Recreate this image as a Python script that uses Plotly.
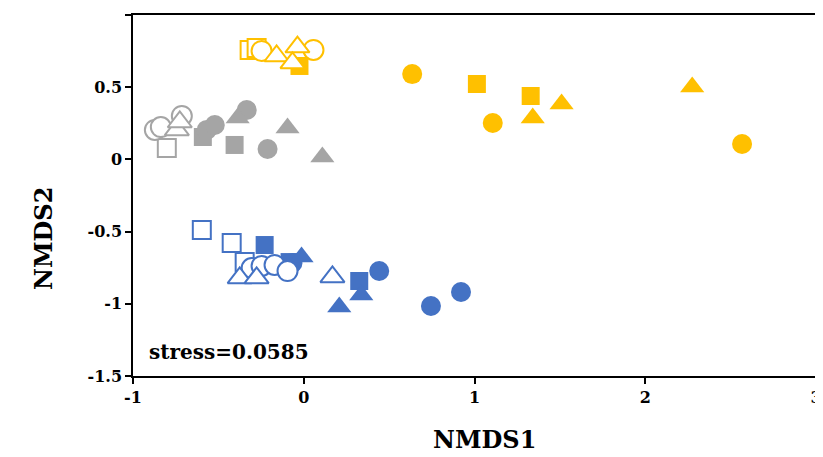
import plotly.graph_objects as go

# ---- data (NMDS coordinates) ----
# Yellow group
yel_open_sq_x = [-0.317, -0.276]
yel_open_sq_y = [0.758, 0.771]
yel_open_ci_x = [-0.247, 0.057]
yel_open_ci_y = [0.751, 0.758]
yel_open_tr_x = [-0.159, -0.037, -0.066]
yel_open_tr_y = [0.716, 0.778, 0.668]
yel_fill_sq_x = [-0.025, 1.014, 1.329]
yel_fill_sq_y = [0.647, 0.522, 0.439]
yel_fill_ci_x = [0.635, 1.107, 2.567]
yel_fill_ci_y = [0.591, 0.252, 0.107]
yel_fill_tr_x = [1.341, 1.510, 2.275]
yel_fill_tr_y = [0.287, 0.384, 0.501]

# Gray group
gry_open_sq_x = [-0.802]
gry_open_sq_y = [0.079]
gry_open_ci_x = [-0.872, -0.837, -0.714]
gry_open_ci_y = [0.204, 0.224, 0.301]
gry_open_tr_x = [-0.743, -0.726]
gry_open_tr_y = [0.204, 0.259]
gry_fill_sq_x = [-0.591, -0.405]
gry_fill_sq_y = [0.155, 0.100]
gry_fill_ci_x = [-0.568, -0.521, -0.334, -0.212]
gry_fill_ci_y = [0.204, 0.238, 0.342, 0.072]
gry_fill_tr_x = [-0.387, -0.095, 0.109]
gry_fill_tr_y = [0.287, 0.217, 0.017]

# Blue group
blu_open_sq_x = [-0.597, -0.422, -0.346]
blu_open_sq_y = [-0.489, -0.579, -0.711]
blu_open_ci_x = [-0.305, -0.247, -0.171, -0.095]
blu_open_ci_y = [-0.752, -0.738, -0.731, -0.773]
blu_open_tr_x = [-0.375, -0.276, 0.168]
blu_open_tr_y = [-0.821, -0.821, -0.814]
blu_fill_sq_x = [-0.229, -0.083, 0.325]
blu_fill_sq_y = [-0.593, -0.711, -0.842]
blu_fill_ci_x = [-0.066, 0.442, 0.745, 0.921]
blu_fill_ci_y = [-0.717, -0.773, -1.015, -0.918]
blu_fill_tr_x = [-0.013, 0.337, 0.208]
blu_fill_tr_y = [-0.676, -0.939, -1.022]

x_tick_vals = [-1, 0, 1, 2, 3]
x_tick_text = ["-1", "0", "1", "2", "3"]
y_tick_vals = [-1.5, -1, -0.5, 0, 0.5, 1]
y_tick_text = ["-1.5", "-1", "-0.5", "0", "0.5", "1"]
x_title = "NMDS1"
y_title = "NMDS2"
stress_text = "stress=0.0585"

YEL = "#FFC000"
GRY = "#A5A5A5"
BLU = "#4472C4"

SYM = {"sq": "square", "ci": "circle", "tr": "triangle-up"}
SIZE = {"sq": 18, "ci": 20, "tr": 21}

fig = go.Figure()

def add(xs, ys, color, shape, filled):
    fig.add_trace(go.Scatter(
        x=xs, y=ys, mode="markers", showlegend=False,
        marker=dict(
            symbol=SYM[shape], size=SIZE[shape],
            color=color if filled else "white",
            line=dict(color=color, width=0 if filled else 2),
        ),
    ))

groups = [
    (GRY, [("sq", False, gry_open_sq_x, gry_open_sq_y),
           ("ci", False, gry_open_ci_x, gry_open_ci_y),
           ("tr", False, gry_open_tr_x, gry_open_tr_y),
           ("sq", True, gry_fill_sq_x, gry_fill_sq_y),
           ("ci", True, gry_fill_ci_x, gry_fill_ci_y),
           ("tr", True, gry_fill_tr_x, gry_fill_tr_y)]),
    (YEL, [("sq", True, yel_fill_sq_x, yel_fill_sq_y),
           ("sq", False, yel_open_sq_x, yel_open_sq_y),
           ("ci", False, yel_open_ci_x, yel_open_ci_y),
           ("tr", False, yel_open_tr_x, yel_open_tr_y),
           ("ci", True, yel_fill_ci_x, yel_fill_ci_y),
           ("tr", True, yel_fill_tr_x, yel_fill_tr_y)]),
    (BLU, [("sq", False, blu_open_sq_x, blu_open_sq_y),
           ("sq", True, blu_fill_sq_x, blu_fill_sq_y),
           ("ci", True, blu_fill_ci_x, blu_fill_ci_y),
           ("tr", True, blu_fill_tr_x, blu_fill_tr_y),
           ("ci", False, blu_open_ci_x, blu_open_ci_y),
           ("tr", False, blu_open_tr_x, blu_open_tr_y)]),
]
for color, items in groups:
    for shape, filled, xs, ys in items:
        add(xs, ys, color, shape, filled)

FONT = "DejaVu Serif"

fig.add_annotation(
    x=-0.92, y=-1.334, xref="x", yref="y", text=stress_text,
    showarrow=False, xanchor="left", yanchor="middle",
    font=dict(family=FONT, size=20, color="black", weight="bold"),
)
fig.add_annotation(
    x=0.515, y=-0.177, xref="paper", yref="paper", text=x_title,
    showarrow=False, xanchor="center", yanchor="middle",
    font=dict(family=FONT, size=24, color="black", weight="bold"),
)
fig.add_annotation(
    x=-0.132, y=0.382, xref="paper", yref="paper", text=y_title,
    showarrow=False, xanchor="center", yanchor="middle", textangle=-90,
    font=dict(family=FONT, size=24, color="black", weight="bold"),
)

axis_common = dict(
    showgrid=False, zeroline=False, showline=True, linecolor="black",
    linewidth=1.5, mirror=True, ticks="outside", ticklen=6,
    tickcolor="black", tickwidth=1.5, automargin=False,
    tickfont=dict(family=FONT, size=16, color="black", weight="bold"),
)

# The page body adds an 8 px margin, so the figure is sized to end at the window edge.
fig.update_layout(
    width=815, height=449,
    margin=dict(l=125, r=7, t=7, b=81),
    plot_bgcolor="white", paper_bgcolor="white",
    xaxis=dict(range=[-1, 3], tickvals=x_tick_vals, ticktext=x_tick_text, **axis_common),
    yaxis=dict(range=[-1.5, 1], tickvals=y_tick_vals, ticktext=y_tick_text, **axis_common),
)

fig.write_html("out.html")
